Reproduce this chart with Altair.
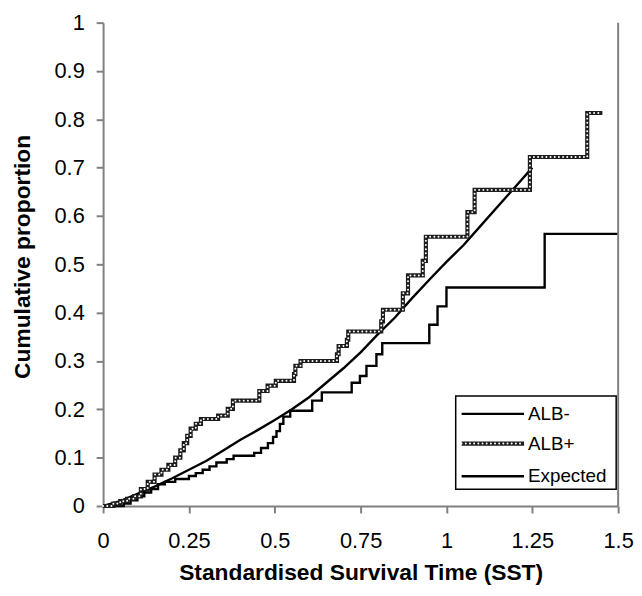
import altair as alt
import pandas as pd

# ---- data ----
alb_minus_x = [0, 0.06, 0.08, 0.10, 0.12, 0.14, 0.16, 0.18, 0.21, 0.25, 0.27, 0.29, 0.31, 0.33,
               0.36, 0.38, 0.44, 0.46, 0.48, 0.495, 0.505, 0.515, 0.525, 0.545, 0.609, 0.637,
               0.724, 0.748, 0.767, 0.796, 0.813, 0.950, 0.974, 1.0, 1.286, 1.5]
alb_minus_y = [0, 0.005, 0.012, 0.02, 0.028, 0.035, 0.045, 0.05, 0.056, 0.062, 0.068, 0.075, 0.082, 0.09,
               0.097, 0.104, 0.11, 0.12, 0.13, 0.143, 0.155, 0.17, 0.185, 0.197, 0.218, 0.235,
               0.255, 0.269, 0.290, 0.314, 0.337, 0.375, 0.413, 0.452, 0.563, 0.563]

alb_plus_x = [0, 0.03, 0.05, 0.07, 0.09, 0.11, 0.13, 0.15, 0.17, 0.19, 0.21, 0.225, 0.235, 0.245,
              0.255, 0.27, 0.285, 0.335, 0.363, 0.378, 0.455, 0.479, 0.503, 0.556, 0.560, 0.575,
              0.681, 0.686, 0.710, 0.714, 0.810, 0.815, 0.873, 0.888, 0.931, 0.940, 1.061, 1.082,
              1.243, 1.410, 1.454]
alb_plus_y = [0, 0.005, 0.01, 0.015, 0.02, 0.035, 0.05, 0.065, 0.075, 0.085, 0.1, 0.115, 0.13, 0.145,
              0.16, 0.17, 0.18, 0.187, 0.201, 0.218, 0.238, 0.249, 0.259, 0.273, 0.290, 0.300,
              0.314, 0.331, 0.344, 0.361, 0.382, 0.406, 0.44, 0.477, 0.507, 0.557, 0.608, 0.654,
              0.722, 0.813, 0.813]

expected_x = [0, 0.05, 0.1, 0.15, 0.2, 0.25, 0.3, 0.35, 0.4, 0.45, 0.5, 0.55, 0.6, 0.65, 0.7,
              0.75, 0.8, 0.85, 0.9, 0.95, 1.0, 1.05, 1.1, 1.15, 1.2, 1.25]
expected_y = [0, 0.01, 0.025, 0.04, 0.057, 0.075, 0.093, 0.115, 0.137, 0.157, 0.178, 0.2, 0.225,
              0.255, 0.285, 0.318, 0.355, 0.39, 0.43, 0.468, 0.505, 0.54, 0.58, 0.62, 0.66, 0.70]

x_ticks = [0, 0.25, 0.5, 0.75, 1, 1.25, 1.5]
y_ticks = [0, 0.1, 0.2, 0.3, 0.4, 0.5, 0.6, 0.7, 0.8, 0.9, 1]
legend_labels = ["ALB-", "ALB+", "Expected"]

FONT = "Liberation Sans"
W, H = 520, 488
AXC = "#808080"
DARK = "#1c1c1c"

xs = alt.Scale(domain=[0, 1.5], nice=False, zero=False)
ys = alt.Scale(domain=[0, 1], nice=False)

xaxis = alt.Axis(values=x_ticks, labelExpr="'' + datum.value", title="Standardised Survival Time (SST)",
                 grid=False, domainColor=AXC, domainWidth=2, tickColor=AXC, tickWidth=2, tickSize=7,
                 labelFont=FONT, labelFontSize=22, labelColor="black", labelPadding=18,
                 labelFlush=False, labelOverlap=False, labelBound=False,
                 titleFont=FONT, titleFontSize=23, titleFontWeight="bold", titleColor="black",
                 titleBaseline="middle", titleY=67)
yaxis = alt.Axis(values=y_ticks, labelExpr="'' + datum.value", title="Cumulative proportion",
                 grid=False, domainColor=AXC, domainWidth=2, tickColor=AXC, tickWidth=2, tickSize=7,
                 labelFont=FONT, labelFontSize=22, labelColor="black", labelPadding=12,
                 labelFlush=False, labelOverlap=False, labelBound=False,
                 titleFont=FONT, titleFontSize=23, titleFontWeight="bold", titleColor="black",
                 titleBaseline="middle", titleX=-81, titleY=236, titleAngle=270)

X = alt.X("x:Q", scale=xs, axis=xaxis)
Y = alt.Y("y:Q", scale=ys, axis=yaxis)

df_minus = pd.DataFrame({"x": alb_minus_x, "y": alb_minus_y})
df_plus = pd.DataFrame({"x": alb_plus_x, "y": alb_plus_y})
df_exp = pd.DataFrame({"x": expected_x, "y": expected_y})

exp_line = alt.Chart(df_exp).mark_line(color="black", strokeWidth=2.4).encode(x=X, y=Y)
minus_line = alt.Chart(df_minus).mark_line(interpolate="step-after", color="black",
                                           strokeWidth=2.4).encode(x=X, y=Y)
plus_dark = alt.Chart(df_plus).mark_line(interpolate="step-after", color=DARK,
                                         strokeWidth=4.2).encode(x=X, y=Y)
plus_white = alt.Chart(df_plus).mark_line(interpolate="step-after", color="white", strokeWidth=2.0,
                                          strokeDash=[0.01, 4.2], strokeCap="round").encode(x=X, y=Y)

border = alt.Chart(pd.DataFrame({"x": [1.5]})).mark_rule(color=AXC, strokeWidth=2).encode(x=X)

# ---- legend (drawn by hand, like the Excel one) ----
LX0, LX1, LY0, LY1 = 356, 518, 377, 471
legend_box = alt.Chart(pd.DataFrame({"a": [0]})).mark_rect(fill="white", stroke="black",
                                                           strokeWidth=1.5).encode(
    x=alt.value(LX0), x2=alt.value(LX1), y=alt.value(LY0), y2=alt.value(LY1))
rows = [395, 425, 458]
leg_layers = [legend_box]
for i, lab in enumerate(legend_labels):
    one = pd.DataFrame({"label": [lab]})
    if lab == "ALB+":
        leg_layers.append(alt.Chart(one).mark_rule(color=DARK, strokeWidth=4.2).encode(
            x=alt.value(362), x2=alt.value(425), y=alt.value(rows[i])))
        leg_layers.append(alt.Chart(one).mark_rule(color="white", strokeWidth=2.0, strokeDash=[0.01, 4.2],
                                                   strokeCap="round").encode(
            x=alt.value(362), x2=alt.value(425), y=alt.value(rows[i])))
    else:
        leg_layers.append(alt.Chart(one).mark_rule(color="black", strokeWidth=2.4).encode(
            x=alt.value(362), x2=alt.value(425), y=alt.value(rows[i])))
    leg_layers.append(alt.Chart(one).mark_text(font=FONT, fontSize=19, align="left", baseline="middle",
                                               color="black").encode(
        x=alt.value(429), y=alt.value(rows[i]), text="label:N"))

chart = alt.layer(exp_line, minus_line, plus_dark, plus_white, border, *leg_layers).properties(
    width=W, height=H,
    background="white",
    autosize=alt.AutoSizeParams(type="none"),
    padding={"left": 96, "top": 12, "right": 16, "bottom": 80},
).configure_view(stroke=None)

chart.save("out.html", embed_options={"renderer": "svg", "actions": False})
